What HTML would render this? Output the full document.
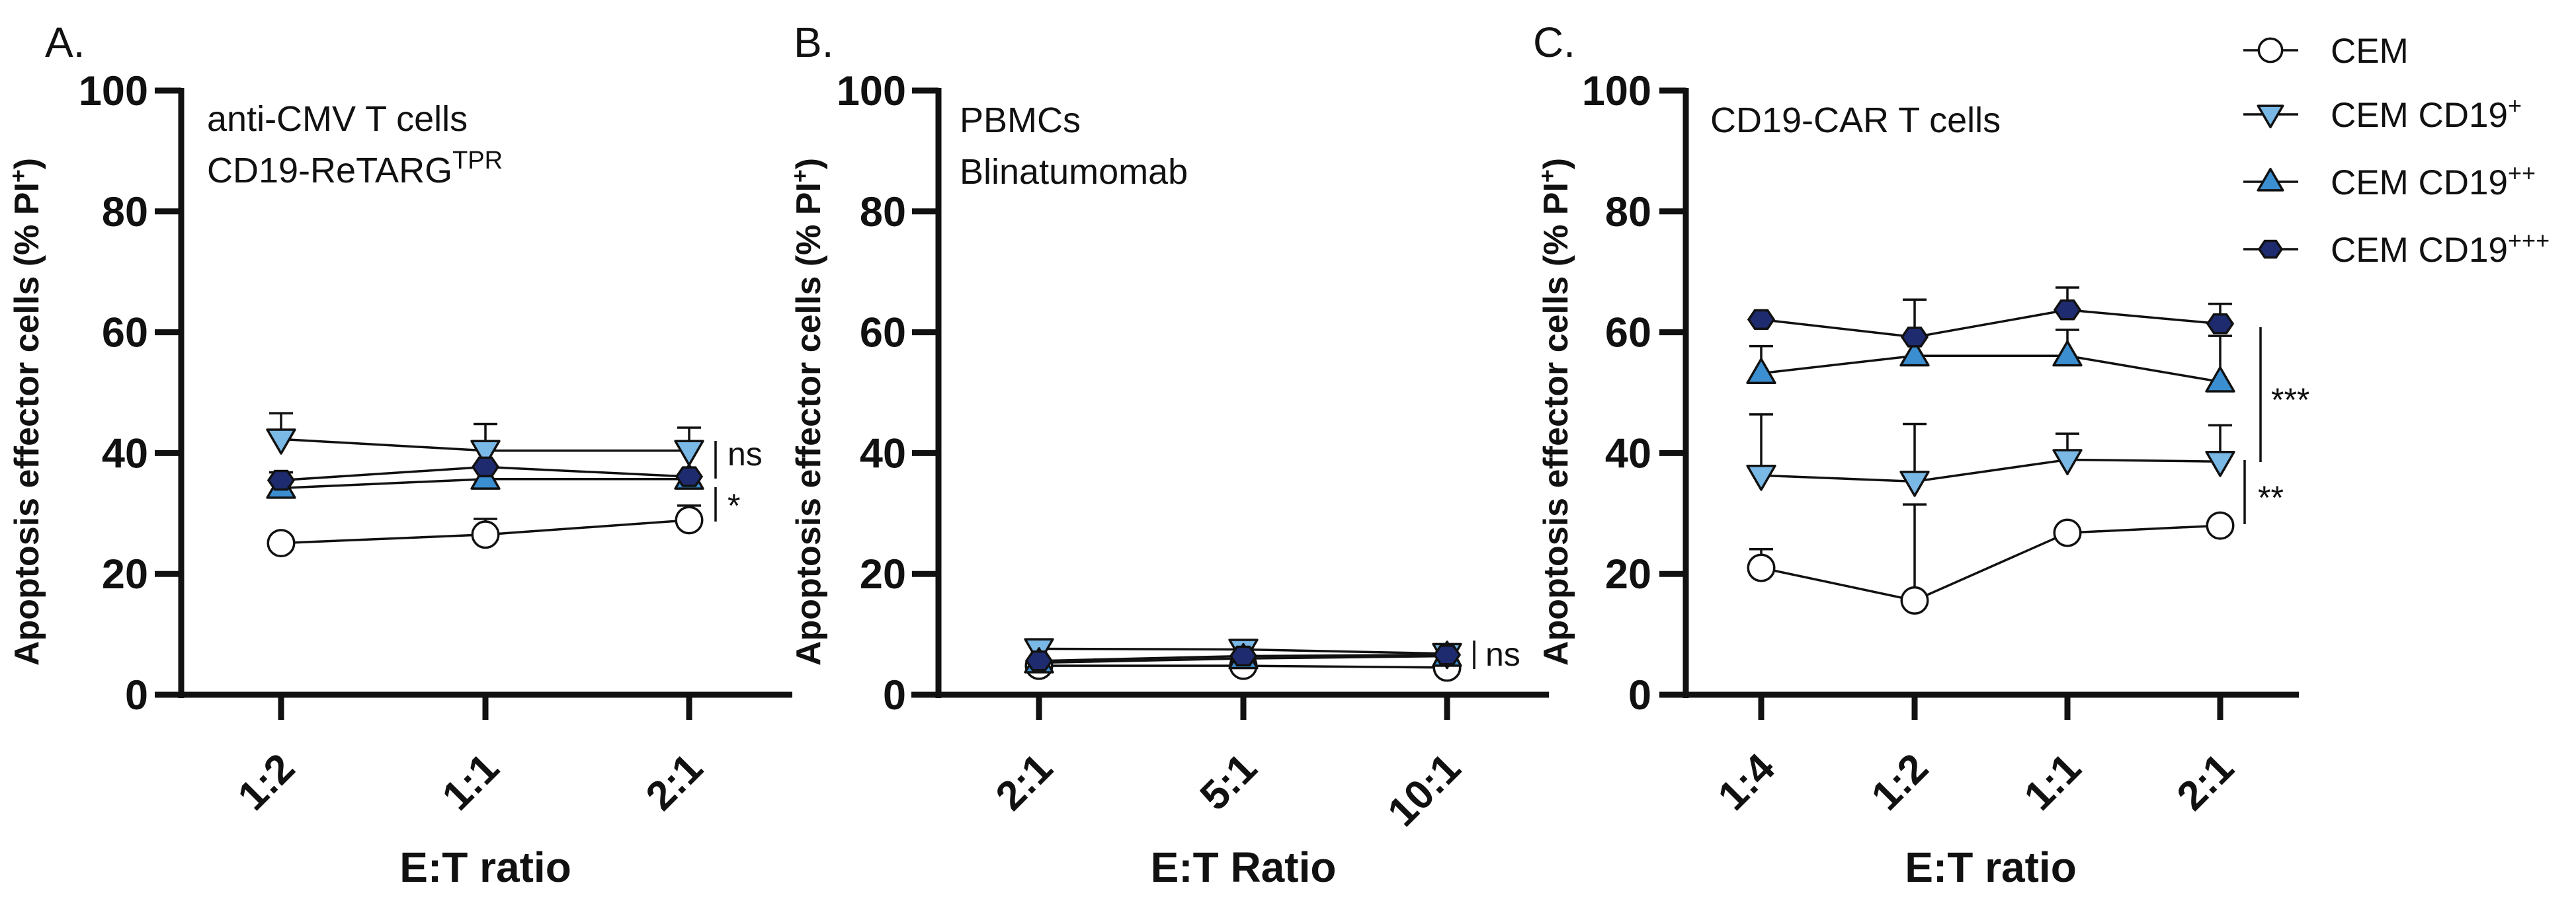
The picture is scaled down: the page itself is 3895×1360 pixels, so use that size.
<!DOCTYPE html>
<html><head><meta charset="utf-8"><style>
html,body{margin:0;padding:0;background:#fff;}
svg{display:block;font-family:"Liberation Sans",Arial,sans-serif;}
</style></head><body>
<svg id="fig" width="3895" height="1360" viewBox="0 0 3895 1360"></svg>
<script>
// ---------- data ----------
const seriesNames = ["CEM","CEM CD19+","CEM CD19++","CEM CD19+++"];
const catsA = ["1:2","1:1","2:1"];
const catsB = ["2:1","5:1","10:1"];
const catsC = ["1:4","1:2","1:1","2:1"];
const yTicks = [0,20,40,60,80,100];
// Panel A
const aCEM = [25.1,26.5,28.9];      const aCEMerr = [0,2.6,2.4];
const aP1 = [42.3,40.4,40.4];       const aP1err = [4.3,4.4,3.8];
const aP2 = [34.2,35.7,35.7];       const aP2err = [0,0,0];
const aP3 = [35.5,37.7,36.1];       const aP3err = [1.3,0,0];
// Panel B
const bCEM = [4.8,4.8,4.5];         const bCEMerr = [0,0,0];
const bP1 = [7.6,7.5,6.8];          const bP1err = [0,0,0];
const bP2 = [5.3,6.0,6.4];          const bP2err = [0,0,0];
const bP3 = [5.6,6.4,6.6];          const bP3err = [0,0,0];
// Panel C
const cCEM = [21.0,15.6,26.8,28.0]; const cCEMerr = [3.1,15.9,0,0];
const cP1 = [36.3,35.3,38.9,38.6];  const cP1err = [10.1,9.5,4.3,6.0];
const cP2 = [53.2,56.1,56.1,51.8];  const cP2err = [4.5,0,4.3,7.6];
const cP3 = [62.1,59.2,63.7,61.4];  const cP3err = [0,6.2,3.7,3.3];

// ---------- drawing ----------
const NS="http://www.w3.org/2000/svg";
const svg=document.getElementById('fig');
function mk(tag,attrs,parent){const e=document.createElementNS(NS,tag);for(const k in attrs)e.setAttribute(k,attrs[k]);(parent||svg).appendChild(e);return e;}
const colors=["#ffffff","#7ab8e6","#3b8fd1","#1f2b6f"];
const Y0=1051, Y100=137;
function yS(v){return Y0-(v/100)*(Y0-Y100);}

function marker(g,type,x,y,s){
  let e;
  if(type===0){e=mk('circle',{cx:x,cy:y,r:s*0.52,fill:colors[0],stroke:'#111','stroke-width':3.5},g);}
  else if(type===1){const h=s*0.95;e=mk('polygon',{points:`${x-s*0.55},${y-h*0.4} ${x+s*0.55},${y-h*0.4} ${x},${y+h*0.6}`,fill:colors[1],stroke:'#111','stroke-width':3.5,'stroke-linejoin':'round'},g);}
  else if(type===2){const h=s*0.95;e=mk('polygon',{points:`${x-s*0.55},${y+h*0.4} ${x+s*0.55},${y+h*0.4} ${x},${y-h*0.6}`,fill:colors[2],stroke:'#111','stroke-width':3.5,'stroke-linejoin':'round'},g);}
  else {const r=s*0.5;let p=[];for(let i=0;i<6;i++){const a=Math.PI/3*i;p.push((x+r*Math.cos(a)).toFixed(1)+','+(y+r*0.85*Math.sin(a)).toFixed(1));}
    e=mk('polygon',{points:p.join(' '),fill:colors[3],stroke:'#111','stroke-width':3.5},g);}
  return e;
}

function panel(id,axisX,xStart,xEnd,tickXs,cats,series,errs,yTitleX,tickLabelRight,xTitle,xTitleX){
  const g=mk('g',{});
  
  
  const ya=mk('line',{x1:axisX,y1:Y100-4,x2:axisX,y2:Y0+5,stroke:'#111','stroke-width':9},g);
  
  
  const xa=mk('line',{x1:xStart,y1:Y0,x2:xEnd,y2:Y0,stroke:'#111','stroke-width':9},g);
  
  
  yTicks.forEach(v=>{
    const y=yS(v);
    mk('line',{x1:axisX-40,y1:y,x2:axisX,y2:y,stroke:'#111','stroke-width':9},g);
    const t=mk('text',{x:tickLabelRight,y:y+22,'text-anchor':'end','font-size':63,'font-weight':'bold',fill:'#111'},g);
    t.textContent=v;
    
    
  });
  cats.forEach((c,i)=>{
    const x=tickXs[i];
    mk('line',{x1:x,y1:Y0,x2:x,y2:Y0+38,stroke:'#111','stroke-width':9},g);
    const t=mk('text',{x:0,y:0,'text-anchor':'end','font-size':62,'font-weight':'bold',fill:'#111',transform:`translate(${x+24},${Y0+115}) rotate(-45)`},g);
    t.textContent=c;
    
    
  });
  const yt=mk('text',{x:0,y:0,'text-anchor':'middle','font-size':52,'font-weight':'bold',fill:'#111',transform:`translate(${yTitleX+18},${623}) rotate(-90)`},g);
  
  
  yt.appendChild(document.createTextNode('Apoptosis effector cells (% PI'));
  const sp=mk('tspan',{'baseline-shift':'super','font-size':34},yt);sp.textContent='+';
  const sp2=mk('tspan',{},yt);sp2.textContent=')';
  const xt=mk('text',{x:xTitleX,y:1334,'text-anchor':'middle','font-size':64,'font-weight':'bold',fill:'#111'},g);
  xt.textContent=xTitle;
  
  
  series.forEach((vals,s)=>{
    const sg=mk('g',{},g);
    
    
    const pts=vals.map((v,i)=>tickXs[i]+','+yS(v)).join(' ');
    mk('polyline',{points:pts,fill:'none',stroke:'#111','stroke-width':3.5},sg);
    vals.forEach((v,i)=>{
      const e=errs[s][i];
      if(e>0){const x=tickXs[i],yt2=yS(v+e);
        mk('line',{x1:x,y1:yS(v),x2:x,y2:yt2,stroke:'#111','stroke-width':3.5},sg);
        mk('line',{x1:x-18,y1:yt2,x2:x+18,y2:yt2,stroke:'#111','stroke-width':3.5},sg);}
    });
  });
  series.forEach((vals,s)=>{
    vals.forEach((v,i)=>{
      const m=marker(g,s,tickXs[i],yS(v),38);
      
      
    });
  });
  return g;
}

panel('a',274,236,1198,[425,734,1042],catsA,[aCEM,aP1,aP2,aP3],[aCEMerr,aP1err,aP2err,aP3err],40,224,'E:T ratio',734);
panel('b',1419,1378,2342,[1571,1880,2188],catsB,[bCEM,bP1,bP2,bP3],[bCEMerr,bP1err,bP2err,bP3err],1222,1370,'E:T Ratio',1880);
panel('c',2549,2511,3476,[2663,2895,3126,3357],catsC,[cCEM,cP1,cP2,cP3],[cCEMerr,cP1err,cP2err,cP3err],2352,2497,'E:T ratio',3010);

function txt(x,y,s,size,name,weight){const t=mk('text',{x:x,y:y,'font-size':size,fill:'#111','font-weight':weight||'normal'});t.textContent=s;
  
  return t;}
txt(68,86,'A.',64,'panel-label-a');
txt(1200,86,'B.',64,'panel-label-b');
txt(2318,86,'C.',64,'panel-label-c');
txt(313,198,'anti-CMV T cells',54,'annotation-a1');
const ann=txt(313,276,'CD19-ReTARG',54,'annotation-a2');
const sup=mk('tspan',{'baseline-shift':'super','font-size':38},ann);sup.textContent='TPR';
txt(1451,200,'PBMCs',54,'annotation-b1');
txt(1451,278,'Blinatumomab',54,'annotation-b2');
txt(2586,200,'CD19-CAR T cells',54,'annotation-c1');

function sig(x,y1,y2,label,tx,ty,name){
  const l=mk('line',{x1:x,y1:y1,x2:x,y2:y2,stroke:'#111','stroke-width':3.5});
  
  
  txt(tx,ty,label,50,name+'-label');
}
sig(1082,667,724,'ns',1100,704,'sig-ns-a');
sig(1082,737,789,'*',1100,782,'sig-star-a');
sig(2229,969,1012,'ns',2246,1007,'sig-ns-b');
sig(3418,495,699,'***',3434,622,'sig-3star-c');
sig(3394,696,793,'**',3414,770,'sig-2star-c');

const legRows=[76,173,275,377];
const sups=['','+','++','+++'];
legRows.forEach((y,i)=>{
  const g=mk('g',{});
  
  
  mk('line',{x1:3392,y1:y,x2:3475,y2:y,stroke:'#111','stroke-width':3.5},g);
  marker(g,i,3433,y,34);
  const t=mk('text',{x:3524,y:y+19,'font-size':53,fill:'#111'},g);
  t.appendChild(document.createTextNode(i===0?'CEM':'CEM CD19'));
  if(i>0){const s=mk('tspan',{'baseline-shift':'super','font-size':36},t);s.textContent=sups[i];}
});
</script>
</body></html>
